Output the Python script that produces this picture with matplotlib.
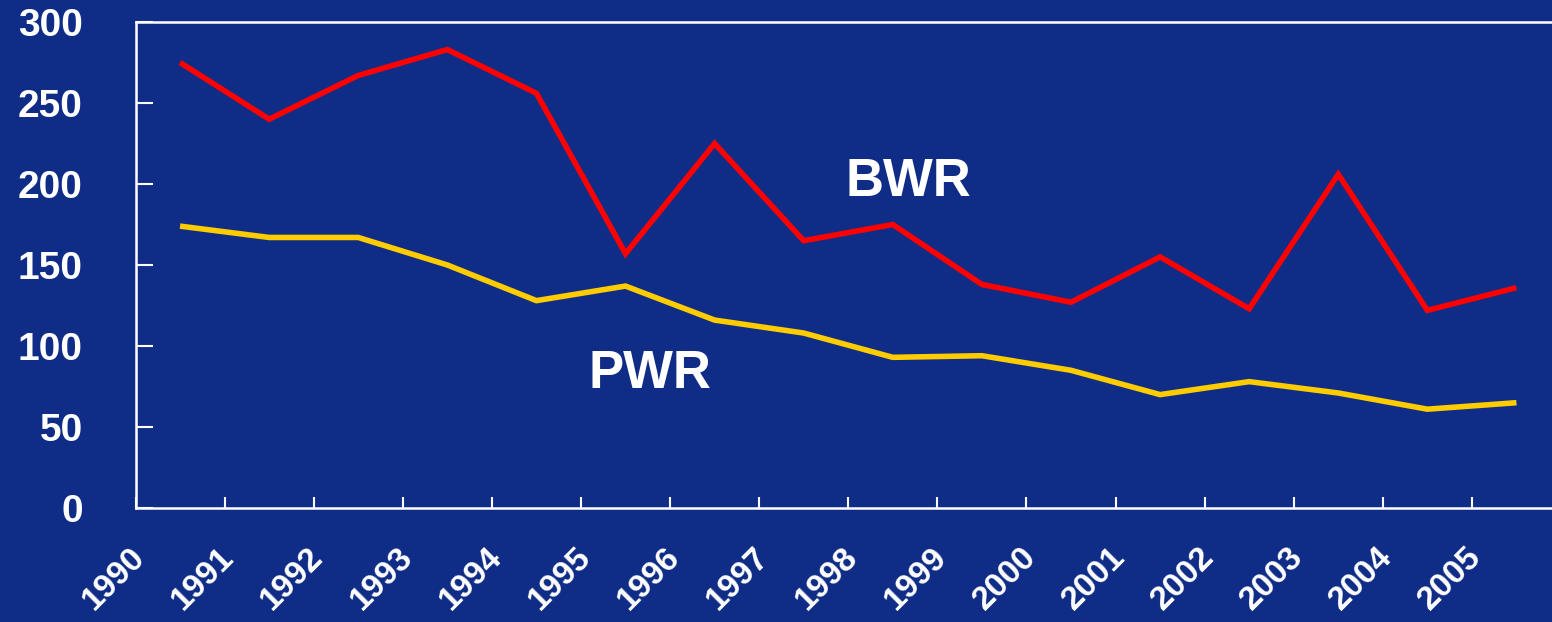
import matplotlib
matplotlib.use("Agg")
import matplotlib.pyplot as plt
import matplotlib.transforms as mtransforms
import numpy as np

years = [str(y) for y in range(1990, 2006)]
bwr = [275, 240, 267, 283, 256, 157, 225, 165, 175, 138, 127, 155, 123, 206, 122, 136]
pwr = [174, 167, 167, 150, 128, 137, 116, 108, 93, 94, 85, 70, 78, 71, 61, 65]
yticks = [0, 50, 100, 150, 200, 250, 300]

BG = "#0F2D86"
plt.rcParams['font.family'] = ['Liberation Sans', 'DejaVu Sans']
plt.rcParams['font.weight'] = 'bold'

W, H = 1552, 622
fig = plt.figure(figsize=(W / 100, H / 100), dpi=100, facecolor=BG)
left, right, bottom, top = 135.5, 1561, 508, 22
ax = fig.add_axes([left / W, (H - bottom) / H, (right - left) / W, (bottom - top) / H])
ax.set_facecolor(BG)

x = np.arange(len(years)) + 0.5
ax.plot(x, bwr, color="#FF0000", lw=4.0, solid_joinstyle='miter', solid_capstyle='butt', clip_on=False)
ax.plot(x, pwr, color="#FFCC00", lw=4.0, solid_joinstyle='miter', solid_capstyle='butt', clip_on=False)

ax.set_xlim(0, len(years))
ax.set_ylim(0, 300)
ax.set_xticks(np.arange(len(years)))
ax.set_xticklabels(years, rotation=45, ha='right', va='center', rotation_mode='anchor')
ax.set_yticks(yticks)
ax.set_yticklabels([str(v) for v in yticks])

for s in ['left', 'bottom', 'top']:
    ax.spines[s].set_color('white')
    ax.spines[s].set_linewidth(1.8)
ax.spines['right'].set_visible(False)

ax.tick_params(axis='x', direction='in', length=8, width=1.5, color='white',
               labelcolor='white', labelsize=24, pad=32)
ax.tick_params(axis='y', direction='in', length=12, width=1.5, color='white',
               labelcolor='white', labelsize=28, pad=38)
offset = mtransforms.ScaledTranslation(5 / 100, 0, fig.dpi_scale_trans)
for lab in ax.get_xticklabels():
    lab.set_fontweight('bold')
    lab.set_transform(lab.get_transform() + offset)
for lab in ax.get_yticklabels():
    lab.set_fontweight('bold')

ax.text(8.67, 201, "BWR", color='white', fontsize=38, fontweight='bold', ha='center', va='center')
ax.text(5.77, 83, "PWR", color='white', fontsize=38, fontweight='bold', ha='center', va='center')

fig.savefig("out.png", dpi=100, facecolor=BG)
